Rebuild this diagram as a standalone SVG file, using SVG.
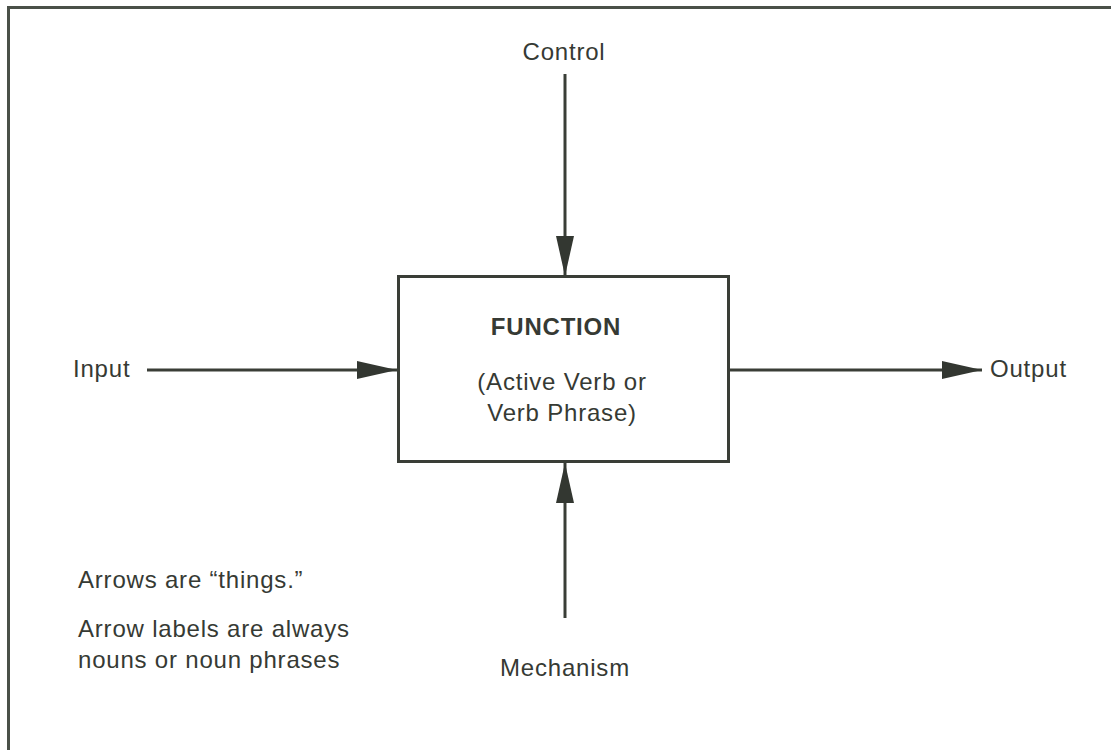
<svg xmlns="http://www.w3.org/2000/svg" width="1111" height="750" viewBox="0 0 1111 750">
  <defs>
    <style>
      .lbl { font-family: "Liberation Sans", Arial, sans-serif; font-size: 24px; fill: #363a34; letter-spacing: 0.8px; }
      .title { font-weight: bold; }
      .wire { stroke: #3a3e37; stroke-width: 3; fill: none; }
      .frame { stroke: #4a5048; stroke-width: 3; fill: none; }
    </style>
    <marker id="head" viewBox="0 0 40 18" refX="40" refY="9" markerWidth="40" markerHeight="18" markerUnits="userSpaceOnUse" orient="auto">
      <path d="M0,0 L40,9 L0,18 Z" fill="#333731"/>
    </marker>
  </defs>
  <rect width="1111" height="750" fill="#ffffff"/>
  <!-- page frame: top and left edges only -->
  <path class="frame" d="M8.5,760 L8.5,7.5 L1111,7.5"/>

  <g id="function">
    <rect class="wire" x="398.5" y="276.5" width="330" height="185"/>
    <text class="lbl title" x="556" y="335" text-anchor="middle">FUNCTION</text>
    <text class="lbl" x="562" y="390" text-anchor="middle">(Active Verb or</text>
    <text class="lbl" x="562" y="421" text-anchor="middle">Verb Phrase)</text>
  </g>

  <g id="control">
    <text class="lbl" x="564" y="60" text-anchor="middle">Control</text>
  </g>
  <g id="input">
    <text class="lbl" x="73" y="377">Input</text>
  </g>
  <g id="output">
    <text class="lbl" x="990" y="377">Output</text>
  </g>
  <g id="mechanism">
    <text class="lbl" x="565" y="676" text-anchor="middle">Mechanism</text>
  </g>

  <g id="notes">
    <text class="lbl" x="78" y="588">Arrows are “things.”</text>
    <text class="lbl" x="78" y="637">Arrow labels are always</text>
    <text class="lbl" x="78" y="668">nouns or noun phrases</text>
  </g>

  <g id="connectors">
    <line class="wire" x1="565" y1="74" x2="565" y2="276" marker-end="url(#head)"/>
    <line class="wire" x1="147" y1="370" x2="397" y2="370" marker-end="url(#head)"/>
    <line class="wire" x1="730" y1="370" x2="982" y2="370" marker-end="url(#head)"/>
    <line class="wire" x1="565" y1="618" x2="565" y2="463" marker-end="url(#head)"/>
  </g>
</svg>
